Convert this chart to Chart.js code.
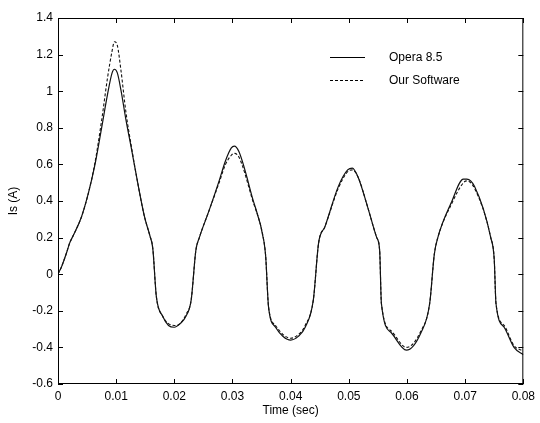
<!DOCTYPE html>
<html>
<head>
<meta charset="utf-8">
<script src="https://cdn.jsdelivr.net/npm/chart.js@4/dist/chart.umd.min.js"></script>
<style>
  html, body { margin: 0; padding: 0; background: #fff; }
  #wrap { width: 540px; height: 423px; }
</style>
</head>
<body>
<div id="wrap"><canvas id="isChart" width="540" height="423"></canvas></div>
<script>
// sample times (sec)
var time = [0, 0.0006, 0.0015, 0.002, 0.0026, 0.004, 0.0052, 0.0063, 0.0075, 0.0085,
    0.0093, 0.0097, 0.0102, 0.0108, 0.0117, 0.0126, 0.0137, 0.0149, 0.0158, 0.0163,
    0.0169, 0.018, 0.019, 0.02, 0.021, 0.022, 0.0229, 0.0237, 0.0243, 0.026,
    0.0277, 0.0288, 0.0298, 0.0303, 0.0311, 0.0334, 0.0354, 0.0357, 0.0362, 0.0374,
    0.0387, 0.04, 0.0413, 0.0425, 0.0439, 0.0448, 0.0459, 0.0482, 0.0498, 0.0506,
    0.0516, 0.0533, 0.0548, 0.0553, 0.0556, 0.0573, 0.0599, 0.0624, 0.0639, 0.0647,
    0.0653, 0.0676, 0.0697, 0.0703, 0.0716, 0.0744, 0.075, 0.0753, 0.0767, 0.0784, 0.08];

// Opera 8.5 (solid)
var opera = [0, 0.04, 0.12, 0.17, 0.21, 0.31, 0.44, 0.59, 0.80, 0.98,
    1.10, 1.12, 1.10, 1.01, 0.84, 0.69, 0.50, 0.31, 0.21, 0.14,
    -0.12, -0.23, -0.28, -0.29, -0.27, -0.23, -0.14, 0.13, 0.20, 0.35,
    0.51, 0.62, 0.69, 0.70, 0.67, 0.42, 0.18, 0.10, -0.18, -0.29,
    -0.34, -0.36, -0.34, -0.29, -0.14, 0.17, 0.26, 0.48, 0.57, 0.58,
    0.53, 0.36, 0.20, 0.13, -0.16, -0.32, -0.415, -0.32, -0.16, 0.11,
    0.20, 0.39, 0.52, 0.52, 0.48, 0.20, 0.08, -0.16, -0.29, -0.40, -0.44];

// Our Software (dashed)
var ours = [0, 0.04, 0.12, 0.17, 0.21, 0.31, 0.44, 0.60, 0.84, 1.07,
    1.22, 1.27, 1.25, 1.12, 0.88, 0.70, 0.50, 0.31, 0.21, 0.14,
    -0.12, -0.23, -0.27, -0.28, -0.27, -0.22, -0.14, 0.13, 0.20, 0.35,
    0.50, 0.60, 0.65, 0.66, 0.64, 0.41, 0.18, 0.10, -0.18, -0.28,
    -0.33, -0.35, -0.33, -0.28, -0.14, 0.17, 0.26, 0.47, 0.56, 0.57,
    0.53, 0.36, 0.20, 0.13, -0.16, -0.31, -0.40, -0.31, -0.16, 0.11,
    0.20, 0.38, 0.50, 0.51, 0.47, 0.20, 0.08, -0.16, -0.28, -0.39, -0.42];

var xTickLabels = ['0', '0.01', '0.02', '0.03', '0.04', '0.05', '0.06', '0.07', '0.08'];
var yTickLabels = ['-0.6', '-0.4', '-0.2', '0', '0.2', '0.4', '0.6', '0.8', '1', '1.2', '1.4'];

function pts(ys) {
    return time.map(function (t, i) { return { x: t, y: ys[i] }; });
}

var fontFam = "'Liberation Sans', Arial, sans-serif";

// matlab style box, inward ticks and in-plot legend
var matlabBox = {
    id: 'matlabBox',
    afterDatasetsDraw: function (chart) {
        var c = chart.ctx, a = chart.chartArea;
        var xs = chart.scales.x, ys = chart.scales.y;
        c.save();
        c.strokeStyle = '#000';
        c.lineWidth = 1;
        c.strokeRect(a.left + 0.5, a.top + 0.5, a.right - a.left - 1, a.bottom - a.top - 1);
        c.beginPath();
        xs.ticks.forEach(function (t) {
            var px = Math.round(xs.getPixelForValue(t.value)) + 0.5;
            c.moveTo(px, a.bottom); c.lineTo(px, a.bottom - 5);
            c.moveTo(px, a.top); c.lineTo(px, a.top + 5);
        });
        ys.ticks.forEach(function (t) {
            var py = Math.round(ys.getPixelForValue(t.value)) + 0.5;
            c.moveTo(a.left, py); c.lineTo(a.left + 5, py);
            c.moveTo(a.right, py); c.lineTo(a.right - 5, py);
        });
        c.stroke();

        // legend
        var lx = 330, ly = 57;
        c.font = '12px ' + fontFam;
        c.fillStyle = '#000';
        c.textBaseline = 'middle';
        chart.data.datasets.forEach(function (ds, i) {
            var y = ly + i * 23 + 0.5;
            c.beginPath();
            c.setLineDash(ds.borderDash || []);
            c.lineWidth = ds.borderWidth;
            c.moveTo(lx, y); c.lineTo(lx + 35, y);
            c.stroke();
            c.setLineDash([]);
            c.fillText(ds.label, lx + 59, y);
        });
        c.restore();
    }
};

new Chart(document.getElementById('isChart'), {
    type: 'line',
    data: {
        datasets: [{
            label: 'Opera 8.5',
            data: pts(opera),
            borderColor: '#111',
            borderWidth: 1.2,
            pointRadius: 0,
            cubicInterpolationMode: 'monotone'
        }, {
            label: 'Our Software',
            data: pts(ours),
            borderColor: '#111',
            borderWidth: 1.1,
            borderDash: [3, 2],
            pointRadius: 0,
            cubicInterpolationMode: 'monotone'
        }]
    },
    options: {
        responsive: false,
        animation: false,
        events: [],
        layout: { padding: { top: 18, right: 14, left: 0, bottom: 0 } },
        plugins: { legend: { display: false }, tooltip: { enabled: false } },
        scales: {
            x: {
                type: 'linear',
                min: 0, max: 0.08,
                grid: { drawOnChartArea: false, drawTicks: false },
                border: { display: false },
                ticks: {
                    stepSize: 0.01,
                    padding: 5,
                    color: '#000',
                    maxRotation: 0,
                    font: { family: fontFam, size: 12 },
                    callback: function (v, i) { return xTickLabels[i]; }
                },
                title: {
                    display: true, text: 'Time (sec)', color: '#000',
                    font: { family: fontFam, size: 12 },
                    padding: { top: 2, bottom: 5 }
                },
                afterFit: function (s) { s.height = 39; }
            },
            y: {
                min: -0.6, max: 1.4,
                grid: { drawOnChartArea: false, drawTicks: false },
                border: { display: false },
                ticks: {
                    stepSize: 0.2,
                    padding: 5,
                    color: '#000',
                    font: { family: fontFam, size: 12 },
                    callback: function (v, i) { return yTickLabels[i]; }
                },
                title: {
                    display: true, text: 'Is (A)', color: '#000',
                    font: { family: fontFam, size: 12 },
                    padding: { top: 6, bottom: 0 }
                },
                afterFit: function (s) { s.width = 58; }
            }
        }
    },
    plugins: [matlabBox]
});
</script>
</body>
</html>
